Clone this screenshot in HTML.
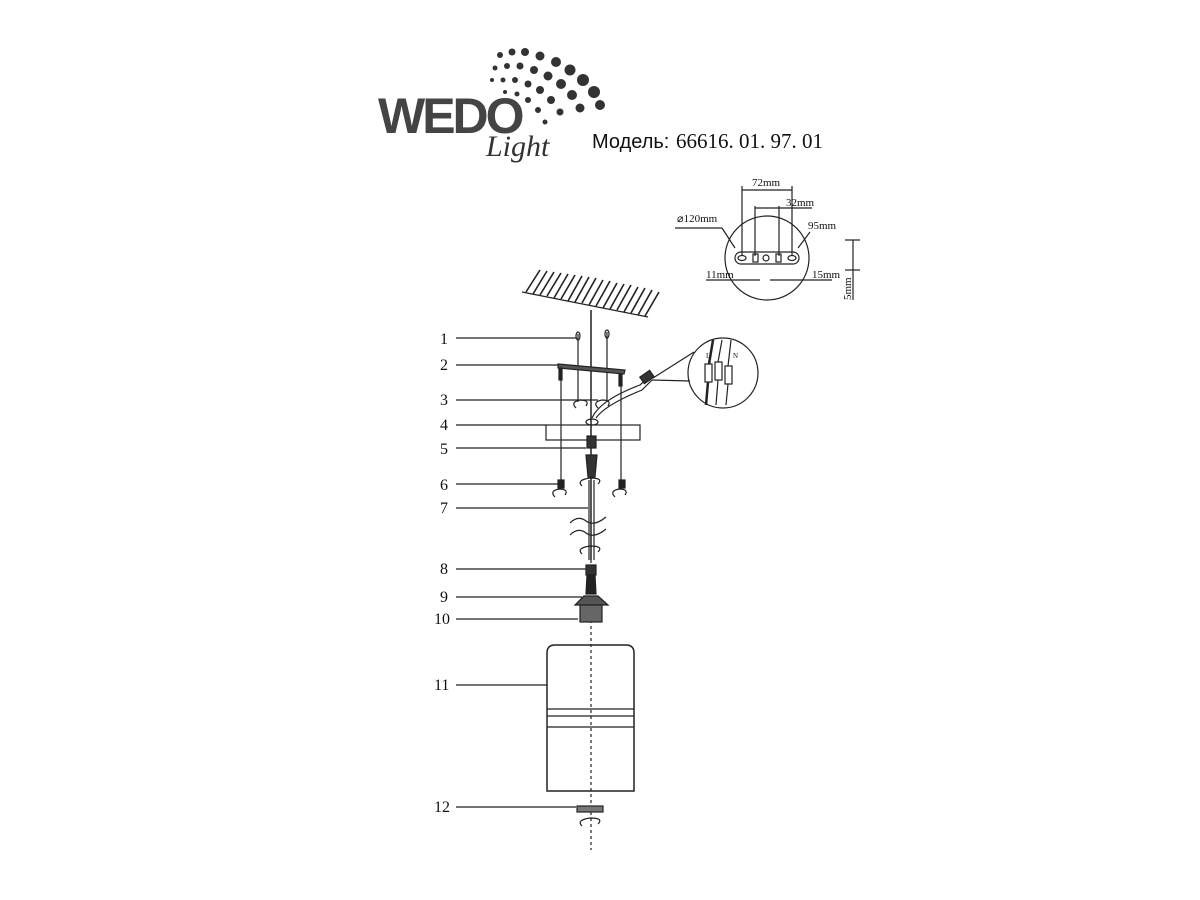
<!DOCTYPE html>
<html><head><meta charset="utf-8"><style>
body{margin:0;background:#fff;}
svg{display:block}
text{font-family:"Liberation Serif",serif;fill:#111}
</style></head><body>
<svg width="1200" height="900" viewBox="0 0 1200 900" xmlns="http://www.w3.org/2000/svg">
<!-- logo -->
<g>
<g fill="#333">
<circle cx="500" cy="55" r="3"/><circle cx="512" cy="52" r="3.5"/><circle cx="525" cy="52" r="4"/><circle cx="540" cy="56" r="4.5"/><circle cx="556" cy="62" r="5"/><circle cx="570" cy="70" r="5.5"/><circle cx="583" cy="80" r="6"/><circle cx="594" cy="92" r="6"/><circle cx="600" cy="105" r="5"/>
<circle cx="495" cy="68" r="2.5"/><circle cx="507" cy="66" r="3"/><circle cx="520" cy="66" r="3.5"/><circle cx="534" cy="70" r="4"/><circle cx="548" cy="76" r="4.5"/><circle cx="561" cy="84" r="5"/><circle cx="572" cy="95" r="5"/><circle cx="580" cy="108" r="4.5"/>
<circle cx="492" cy="80" r="2"/><circle cx="503" cy="80" r="2.5"/><circle cx="515" cy="80" r="3"/><circle cx="528" cy="84" r="3.5"/><circle cx="540" cy="90" r="4"/><circle cx="551" cy="100" r="4"/><circle cx="560" cy="112" r="3.5"/>
<circle cx="505" cy="92" r="2"/><circle cx="517" cy="94" r="2.5"/><circle cx="528" cy="100" r="3"/><circle cx="538" cy="110" r="3"/><circle cx="545" cy="122" r="2.5"/>
</g>
<text x="378" y="133" style="font-family:'Liberation Sans',sans-serif;font-weight:bold;font-size:50px;fill:#444;letter-spacing:-3px">WEDO</text>
<text x="486" y="156" font-size="30" font-style="italic" style="fill:#333">Light</text>
<text x="592" y="148" style="font-family:'Liberation Sans',sans-serif;font-size:20px">Модель:</text>
<text x="676" y="148" font-size="21">66616. 01. 97. 01</text>
</g>

<!-- top-right mounting plate -->
<g stroke="#222" fill="none" stroke-width="1.2">
<circle cx="767" cy="258" r="42"/>
<rect x="735" y="252" width="64" height="12" rx="6"/>
<ellipse cx="742" cy="258" rx="4" ry="2.5"/><ellipse cx="792" cy="258" rx="4" ry="2.5"/>
<circle cx="766" cy="258" r="3"/><rect x="753" y="254" width="5" height="8"/><rect x="776" y="254" width="5" height="8"/>
<line x1="742" y1="186" x2="742" y2="256"/><line x1="792" y1="186" x2="792" y2="256"/>
<line x1="742" y1="190" x2="792" y2="190"/>
<line x1="755" y1="206" x2="755" y2="256"/><line x1="779" y1="206" x2="779" y2="256"/>
<line x1="755" y1="208" x2="812" y2="208"/>
<line x1="722" y1="228" x2="735" y2="248"/><line x1="675" y1="228" x2="722" y2="228"/>
<line x1="810" y1="232" x2="798" y2="248"/>
<line x1="706" y1="280" x2="760" y2="280"/><line x1="770" y1="280" x2="832" y2="280"/>
<line x1="845" y1="240" x2="860" y2="240"/><line x1="845" y1="270" x2="860" y2="270"/>
<line x1="853" y1="240" x2="853" y2="300"/>
</g>
<g font-size="11">
<text x="752" y="186">72mm</text>
<text x="786" y="206">32mm</text>
<text x="808" y="229">95mm</text>
<text x="677" y="222">⌀120mm</text>
<text x="706" y="278">11mm</text>
<text x="812" y="278">15mm</text>
<text x="851" y="300" transform="rotate(-90 851 300)">5mm</text>
</g>

<!-- ceiling hatch -->
<g stroke="#222" stroke-width="1.6">
<line x1="522" y1="292" x2="648" y2="317" stroke-width="1.2"/>
<line x1="526" y1="292" x2="540" y2="270"/><line x1="533" y1="294" x2="547" y2="271"/><line x1="540" y1="295" x2="554" y2="272"/><line x1="547" y1="296" x2="561" y2="273"/><line x1="554" y1="298" x2="568" y2="274"/><line x1="561" y1="299" x2="575" y2="275"/><line x1="568" y1="301" x2="582" y2="276"/><line x1="575" y1="302" x2="589" y2="277"/><line x1="582" y1="303" x2="596" y2="278"/><line x1="589" y1="305" x2="603" y2="280"/><line x1="596" y1="306" x2="610" y2="281"/><line x1="603" y1="308" x2="617" y2="283"/><line x1="610" y1="309" x2="624" y2="284"/><line x1="617" y1="310" x2="631" y2="285"/><line x1="624" y1="312" x2="638" y2="287"/><line x1="631" y1="313" x2="645" y2="288"/><line x1="638" y1="315" x2="652" y2="290"/><line x1="645" y1="316" x2="659" y2="292"/>
</g>

<g stroke="#222" stroke-width="1.2" fill="none">
<!-- axis -->
<line x1="591" y1="310" x2="591" y2="560" stroke-width="1.5"/>
<line x1="591" y1="560" x2="591" y2="850" stroke-dasharray="3,3"/>
<!-- leaders -->
<line x1="456" y1="338" x2="576" y2="338"/>
<line x1="456" y1="365" x2="560" y2="365"/>
<line x1="456" y1="400" x2="598" y2="400"/>
<line x1="456" y1="425" x2="546" y2="425"/>
<line x1="456" y1="448" x2="586" y2="448"/>
<line x1="456" y1="484" x2="560" y2="484"/>
<line x1="456" y1="508" x2="588" y2="508"/>
<line x1="456" y1="569" x2="586" y2="569"/>
<line x1="456" y1="597" x2="582" y2="597"/>
<line x1="456" y1="619" x2="578" y2="619"/>
<line x1="456" y1="685" x2="547" y2="685"/>
<line x1="456" y1="807" x2="576" y2="807"/>
<!-- screws 1 -->
<line x1="578" y1="334" x2="578" y2="402"/><line x1="607" y1="332" x2="607" y2="402"/>
<ellipse cx="578" cy="336" rx="2" ry="4"/><ellipse cx="607" cy="334" rx="2" ry="4"/>
<!-- bar 2 -->
<path d="M558 364 L625 370 L624 374 L558 368Z" fill="#555"/>
<rect x="559" y="368" width="3" height="12" fill="#222"/><rect x="619" y="374" width="3" height="12" fill="#222"/>
<line x1="561" y1="380" x2="561" y2="484"/><line x1="621" y1="386" x2="621" y2="484"/>
<!-- wires -->
<path d="M592 418 Q600 400 640 385 L650 376"/>
<path d="M596 418 Q605 405 642 390 L652 380"/>
<rect x="641" y="373" width="12" height="8" fill="#333" transform="rotate(-35 647 377)"/>
<!-- magnifier -->
<circle cx="723" cy="373" r="35"/>
<line x1="652" y1="380" x2="690" y2="381"/><line x1="653" y1="378" x2="694" y2="352"/>
<rect x="705" y="364" width="7" height="18"/><rect x="715" y="362" width="7" height="18"/><rect x="725" y="366" width="7" height="18"/>
<line x1="713" y1="340" x2="709" y2="364" stroke-width="2.5"/><line x1="722" y1="340" x2="718" y2="362"/><line x1="731" y1="340" x2="728" y2="366"/><line x1="708" y1="382" x2="706" y2="405" stroke-width="2.5"/><line x1="718" y1="380" x2="716" y2="405"/><line x1="728" y1="384" x2="726" y2="405"/>
<!-- rotation arrows -->
<path d="M576 408 q-6 -6 4 -8 q10 0 6 6"/><path d="M598 408 q-6 -6 4 -8 q10 0 6 6"/>
<path d="M555 497 q-6 -6 4 -8 q10 0 6 6"/><path d="M615 497 q-6 -6 4 -8 q10 0 6 6"/>
<path d="M582 486 q-6 -6 8 -8 q14 0 8 6"/>
<path d="M582 554 q-6 -6 8 -8 q14 0 8 6"/>
<path d="M582 826 q-6 -6 8 -8 q14 0 8 6"/>
<!-- nut 4 -->
<ellipse cx="592" cy="422" rx="6" ry="3"/>
<!-- canopy -->
<rect x="546" y="425" width="94" height="15"/>
<!-- 5 -->
<rect x="587" y="436" width="9" height="12" fill="#333"/>
<path d="M586 455 L597 455 L595 477 L588 477Z" fill="#333"/>
<rect x="558" y="480" width="6" height="8" fill="#222"/><rect x="619" y="480" width="6" height="8" fill="#222"/>
<!-- break -->
<path d="M570 523 q8 -8 16 -2 q8 6 20 -4"/><path d="M570 535 q8 -8 16 -2 q8 6 20 -4"/>
<line x1="589" y1="480" x2="589" y2="560"/><line x1="594" y1="480" x2="594" y2="560"/>
<!-- 8 -->
<rect x="586" y="565" width="10" height="10" fill="#333"/><path d="M587 575 L595 575 L596 594 L586 594Z" fill="#222"/>
<!-- 9/10 socket -->
<path d="M584 596 L598 596 L608 605 L575 605Z" fill="#555"/>
<rect x="580" y="605" width="22" height="17" fill="#666"/>
<!-- shade -->
<path d="M547 791 L547 653 Q547 645 555 645 L626 645 Q634 645 634 653 L634 791 Z" stroke-width="1.5"/>
<line x1="547" y1="709" x2="634" y2="709"/><line x1="547" y1="716" x2="634" y2="716"/><line x1="547" y1="727" x2="634" y2="727"/>
<!-- 12 -->
<rect x="577" y="806" width="26" height="6" fill="#777"/>
</g>
<g font-size="16">
<text x="440" y="344">1</text><text x="440" y="370">2</text><text x="440" y="405">3</text><text x="440" y="430">4</text><text x="440" y="454">5</text><text x="440" y="490">6</text><text x="440" y="513">7</text><text x="440" y="574">8</text><text x="440" y="602">9</text><text x="434" y="624">10</text><text x="434" y="690">11</text><text x="434" y="812">12</text>
</g>
<g font-size="7"><text x="706" y="358">L</text><text x="733" y="358">N</text></g>
</svg>
</body></html>
